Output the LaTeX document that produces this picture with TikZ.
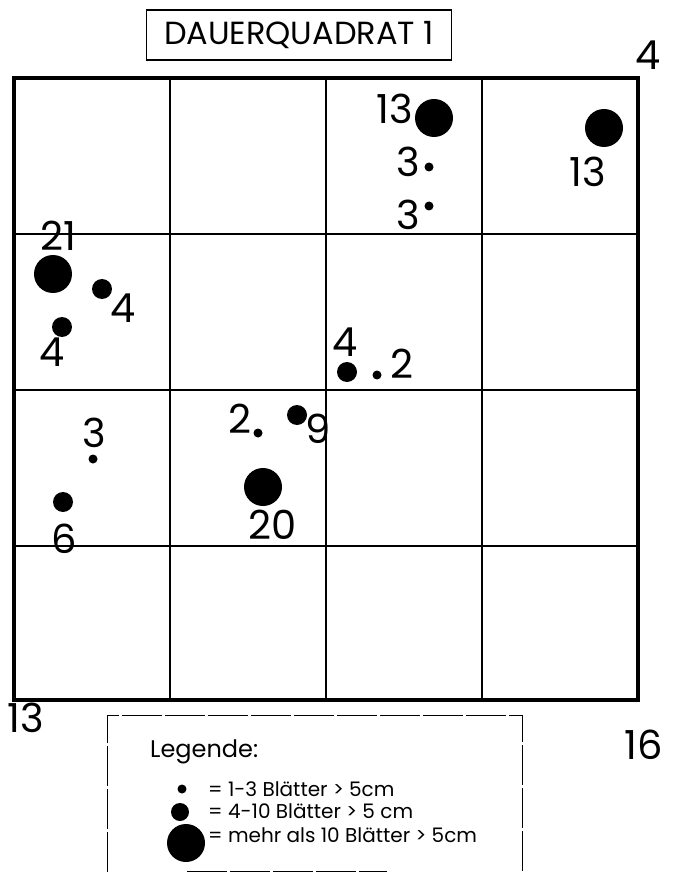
\documentclass[tikz,border=0pt]{standalone}
\usepackage{fontspec}
\setmainfont{Poppins}
\usetikzlibrary{positioning}
\tikzset{
    smalldot/.style={circle,fill,inner sep=0pt,minimum size=9pt},
    middot/.style={circle,fill,inner sep=0pt,minimum size=20pt},
    bigdot/.style={circle,fill,inner sep=0pt,minimum size=38pt},
    num/.style={inner sep=0pt,font=\fontsize{40}{40}\selectfont},
    legtext/.style={anchor=west,inner sep=0pt,font=\fontsize{20}{20}\selectfont},
    gridline/.style={line width=1.3pt}
}

\begin{document}
\begin{tikzpicture}[x=1pt,y=-1pt]
    \useasboundingbox (0,0) rectangle (672,874);
    \node[draw,line width=1.2pt,minimum width=305pt,minimum height=50pt,font=\fontsize{32}{32}\selectfont] (title) at (299,35) {DAUERQUADRAT 1};
    % grid of the quadrat
    \foreach \i in {170,326,482} {
        \draw[gridline] (\i,78) -- (\i,700);
    }
    \foreach \j in {234,390,546} {
        \draw[gridline] (14,\j) -- (638,\j);
    }
    \draw[line width=3.5pt] (14,78) rectangle (638,700);
    \node[num] (c4) at (648,55) {4};
    \node[num] (c13) at (26,718) {13};
    \node[num] (c16) at (644,745) {16};
    % row 1
    \node[bigdot] (p1) at (434,118) {};
    \node[num] (l1) at (395,109) {13};
    \node[smalldot] (p2) at (429,167) {};
    \node[num] (l2) at (408,162) {3};
    \node[smalldot] (p3) at (429,206) {};
    \node[num] (l3) at (408,215) {3};
    \node[bigdot] (p4) at (604,128) {};
    \node[num] (l4) at (588,172) {13};
    % row 2
    \node[bigdot] (p5) at (53,274) {};
    \node[num] (l5) at (58,236) {21};
    \node[middot] (p6) at (102,289) {};
    \node[num] (l6) at (123,308) {4};
    \node[middot] (p7) at (62,327) {};
    \node[num] (l7) at (52,352) {4};
    \node[middot] (p8) at (347,372) {};
    \node[num] (l8) at (345,342) {4};
    \node[smalldot] (p9) at (377,375) {};
    \node[num] (l9) at (402,364) {2};
    % row 3
    \node[smalldot] (p10) at (258,433) {};
    \node[num] (l10) at (240,419) {2};
    \node[middot] (p11) at (297,415) {};
    \node[num] (l11) at (318,429) {9};
    \node[bigdot] (p12) at (263,487) {};
    \node[num] (l12) at (273,525) {20};
    \node[smalldot] (p13) at (93,459) {};
    \node[num] (l13) at (94,433) {3};
    \node[middot] (p14) at (63,502) {};
    \node[num] (l14) at (64,539) {6};
    % legend
    \draw[line width=1pt,dash pattern=on 40pt off 3pt] (107,872) -- (107,715) -- (522,715) -- (522,872);
    \draw[line width=1pt,dash pattern=on 40pt off 3pt] (187,871) -- (387,871);
    \node[anchor=west,inner sep=0pt,font=\fontsize{24}{24}\selectfont] (leghead) at (150,752) {Legende:};
    \node[smalldot] (k1) at (182,789) {};
    \node[middot,minimum size=18pt] (k2) at (180,812) {};
    \node[bigdot] (k3) at (186,843) {};
    \node[legtext] (t1) at (208,789) {= 1-3 Blätter > 5cm};
    \node[legtext] (t2) at (208,811) {= 4-10 Blätter > 5 cm};
    \node[legtext] (t3) at (208,835) {= mehr als 10 Blätter > 5cm};
\end{tikzpicture}
\end{document}
